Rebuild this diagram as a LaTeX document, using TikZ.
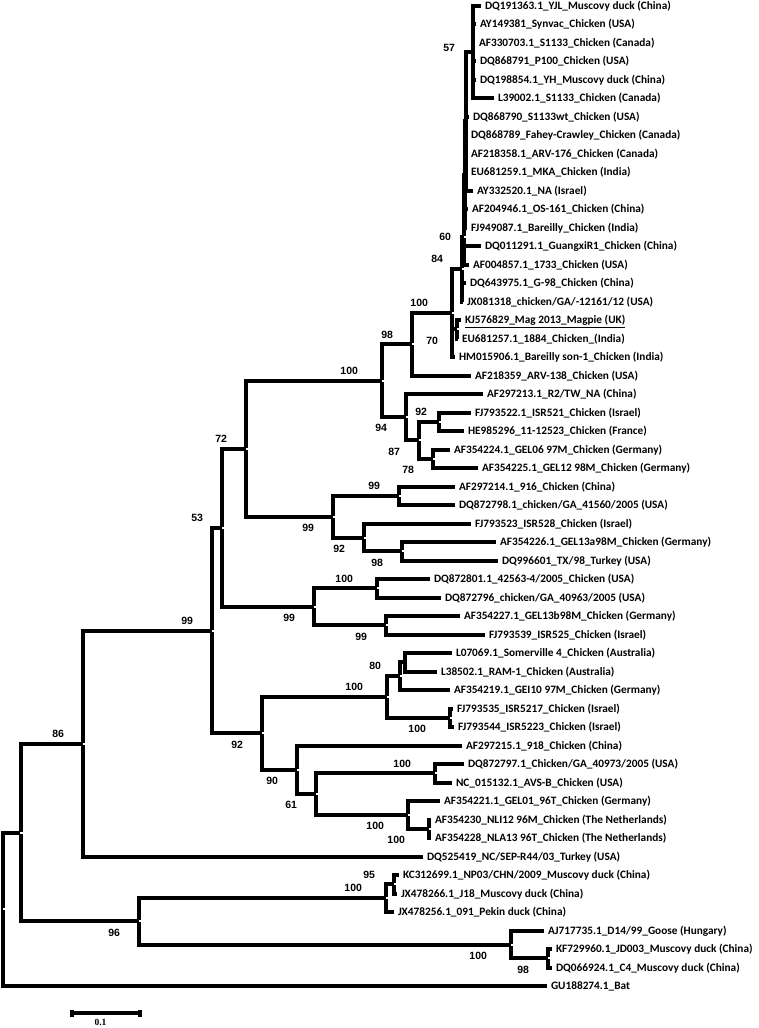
\documentclass[tikz,border=0pt]{standalone}
\usepackage{fontspec}
\setmainfont{Carlito}
\newfontfamily\bsfont{Liberation Sans}
\newfontfamily\sbfont{Liberation Serif}
\tikzset{
  br/.style={line width=4pt, line join=miter},
  leaf/.style={anchor=west, inner sep=0pt, inner xsep=4pt, outer sep=0pt,
    text height=8.5pt, text depth=1pt, font=\bfseries\fontsize{11.3}{13}\selectfont},
  bs/.style={inner sep=0pt, outer sep=0pt, font=\bsfont\bfseries\fontsize{10.5}{12}\selectfont},
  bsa/.style={bs, anchor=south east, xshift=#1, yshift=6.25pt},
  bsa/.default=-19pt,
  bsb/.style={bs, anchor=north east, xshift=#1, yshift=-7.25pt},
  bsb/.default=-19pt,
}
\begin{document}
\begin{tikzpicture}[x=1pt, y=-18.5pt]
\fill[white] (0,-0.308) rectangle (759,55.26);
\useasboundingbox (0,-0.308) rectangle (759,55.26);

% internal nodes
\coordinate (root) at (3,48.85);
\coordinate (ingrp) at (20.5,44.70);
\coordinate (c86) at (83,39.89);
\coordinate (c99a) at (212,33.79);
\coordinate (c53) at (222,28.23);
\coordinate (c72) at (246,23.95);
\coordinate (c100a) at (382,20.28);
\coordinate (c98a) at (412,18.31);
\coordinate (c100b) at (452,16.625);
\coordinate (c84) at (462,14.25);
\coordinate (c60) at (464,12.5);
\coordinate (cB) at (465,9.125);
\coordinate (cA) at (466,6.25);
\coordinate (c57) at (473,2.5);
\coordinate (c70) at (457,17.5);
\coordinate (c94) at (406,22.25);
\coordinate (c87) at (419,23.5);
\coordinate (c92a) at (439,22.5);
\coordinate (c78) at (433,24.5);
\coordinate (c99b) at (333,27.625);
\coordinate (c99c) at (399,26.5);
\coordinate (c92b) at (364,28.75);
\coordinate (c98b) at (402,29.5);
\coordinate (c99d) at (314,32.5);
\coordinate (c100c) at (377,31.5);
\coordinate (c99e) at (386,33.5);
\coordinate (c92c) at (262,39.34);
\coordinate (c100d) at (387,37.375);
\coordinate (c80) at (400,36.25);
\coordinate (cL) at (405,35.5);
\coordinate (c100e) at (450,38.5);
\coordinate (c90) at (297,41.31);
\coordinate (c61) at (316,42.625);
\coordinate (c100f) at (435,41.5);
\coordinate (c100g) at (408,43.75);
\coordinate (c100h) at (429,44.5);
\coordinate (c96) at (139,49.5);
\coordinate (c100i) at (386,48.25);
\coordinate (c95) at (394,47.5);
\coordinate (c100j) at (511,50.75);
\coordinate (c98c) at (548,51.5);

% leaves
\node[leaf] (l1) at (481,0) {DQ191363.1\_YJL\_Muscovy duck (China)};
\node[leaf] (l2) at (476,1) {AY149381\_Synvac\_Chicken (USA)};
\node[leaf] (l3) at (475,2) {AF330703.1\_S1133\_Chicken (Canada)};
\node[leaf] (l4) at (476,3) {DQ868791\_P100\_Chicken (USA)};
\node[leaf] (l5) at (476,4) {DQ198854.1\_YH\_Muscovy duck (China)};
\node[leaf] (l6) at (494,5) {L39002.1\_S1133\_Chicken (Canada)};
\node[leaf] (l7) at (469,6) {DQ868790\_S1133wt\_Chicken (USA)};
\node[leaf] (l8) at (467,7) {DQ868789\_Fahey-Crawley\_Chicken (Canada)};
\node[leaf] (l9) at (467,8) {AF218358.1\_ARV-176\_Chicken (Canada)};
\node[leaf] (l10) at (467,9) {EU681259.1\_MKA\_Chicken (India)};
\node[leaf] (l11) at (473,10) {AY332520.1\_NA (Israel)};
\node[leaf] (l12) at (468,11) {AF204946.1\_OS-161\_Chicken (China)};
\node[leaf] (l13) at (467,12) {FJ949087.1\_Bareilly\_Chicken (India)};
\node[leaf] (l14) at (481,13) {DQ011291.1\_GuangxiR1\_Chicken (China)};
\node[leaf] (l15) at (469,14) {AF004857.1\_1733\_Chicken (USA)};
\node[leaf] (l16) at (466,15) {DQ643975.1\_G-98\_Chicken (China)};
\node[leaf] (l17) at (463,16) {JX081318\_chicken/GA/-12161/12 (USA)};
\node[leaf] (l18) at (461,17) {\underline{KJ576829\_Mag 2013\_Magpie (UK)}};
\node[leaf] (l19) at (458,18) {EU681257.1\_1884\_Chicken\_(India)};
\node[leaf] (l20) at (455,19) {HM015906.1\_Bareilly son-1\_Chicken (India)};
\node[leaf] (l21) at (471,20) {AF218359\_ARV-138\_Chicken (USA)};
\node[leaf] (l22) at (483,21) {AF297213.1\_R2/TW\_NA (China)};
\node[leaf] (l23) at (471,22) {FJ793522.1\_ISR521\_Chicken (Israel)};
\node[leaf] (l24) at (464,23) {HE985296\_11-12523\_Chicken (France)};
\node[leaf] (l25) at (450,24) {AF354224.1\_GEL06 97M\_Chicken (Germany)};
\node[leaf] (l26) at (478,25) {AF354225.1\_GEL12 98M\_Chicken (Germany)};
\node[leaf] (l27) at (455,26) {AF297214.1\_916\_Chicken (China)};
\node[leaf] (l28) at (455,27) {DQ872798.1\_chicken/GA\_41560/2005 (USA)};
\node[leaf] (l29) at (471,28) {FJ793523\_ISR528\_Chicken (Israel)};
\node[leaf] (l30) at (496,29) {AF354226.1\_GEL13a98M\_Chicken (Germany)};
\node[leaf] (l31) at (498,30) {DQ996601\_TX/98\_Turkey (USA)};
\node[leaf] (l32) at (430,31) {DQ872801.1\_42563-4/2005\_Chicken (USA)};
\node[leaf] (l33) at (441,32) {DQ872796\_chicken/GA\_40963/2005 (USA)};
\node[leaf] (l34) at (460,33) {AF354227.1\_GEL13b98M\_Chicken (Germany)};
\node[leaf] (l35) at (485,34) {FJ793539\_ISR525\_Chicken (Israel)};
\node[leaf] (l36) at (452,35) {L07069.1\_Somerville 4\_Chicken (Australia)};
\node[leaf] (l37) at (437,36) {L38502.1\_RAM-1\_Chicken (Australia)};
\node[leaf] (l38) at (450,37) {AF354219.1\_GEI10 97M\_Chicken (Germany)};
\node[leaf] (l39) at (453,38) {FJ793535\_ISR5217\_Chicken (Israel)};
\node[leaf] (l40) at (454,39) {FJ793544\_ISR5223\_Chicken (Israel)};
\node[leaf] (l41) at (462,40) {AF297215.1\_918\_Chicken (China)};
\node[leaf] (l42) at (464,41) {DQ872797.1\_Chicken/GA\_40973/2005 (USA)};
\node[leaf] (l43) at (452,42) {NC\_015132.1\_AVS-B\_Chicken (USA)};
\node[leaf] (l44) at (440,43) {AF354221.1\_GEL01\_96T\_Chicken (Germany)};
\node[leaf] (l45) at (431,44) {AF354230\_NLI12 96M\_Chicken (The Netherlands)};
\node[leaf] (l46) at (431,45) {AF354228\_NLA13 96T\_Chicken (The Netherlands)};
\node[leaf] (l47) at (423,46) {DQ525419\_NC/SEP-R44/03\_Turkey (USA)};
\node[leaf] (l48) at (399,47) {KC312699.1\_NP03/CHN/2009\_Muscovy duck (China)};
\node[leaf] (l49) at (397,48) {JX478266.1\_J18\_Muscovy duck (China)};
\node[leaf] (l50) at (394,49) {JX478256.1\_091\_Pekin duck (China)};
\node[leaf] (l51) at (544,50) {AJ717735.1\_D14/99\_Goose (Hungary)};
\node[leaf] (l52) at (552,51) {KF729960.1\_JD003\_Muscovy duck (China)};
\node[leaf] (l53) at (552,52) {DQ066924.1\_C4\_Muscovy duck (China)};
\node[leaf] (l54) at (547,53) {GU188274.1\_Bat};

% branches
\draw[br] (root) |- (ingrp) (root) |- (l54.west);
\draw[br] (ingrp) |- (c86) (ingrp) |- (c96);
\draw[br] (c86) |- (c99a) (c86) |- (l47.west);
\draw[br] (c99a) |- (c53) (c99a) |- (c92c);
\draw[br] (c53) |- (c72) (c53) |- (c99d);
\draw[br] (c72) |- (c100a) (c72) |- (c99b);
\draw[br] (c100a) |- (c98a) (c100a) |- (c94);
\draw[br] (c98a) |- (c100b) (c98a) |- (l21.west);
\draw[br] (c100b) |- (c84) (c100b) |- (c70) (c100b) |- (l20.west);
\draw[br] (c84) |- (c60) (c84) |- (l16.west) (c84) |- (l17.west);
\draw[br] (c60) |- (cB) (c60) |- (l14.west) (c60) |- (l15.west);
\draw[br] (cB) |- (cA) (cB) |- (l12.west) (cB) |- (l13.west);
\draw[br] (cA) |- (c57) (cA) |- (l7.west) (cA) |- (l8.west) (cA) |- (l9.west)
  (cA) |- (l10.west) (cA) |- (l11.west);
\draw[br] (c57) |- (l1.west) (c57) |- (l2.west) (c57) |- (l3.west) (c57) |- (l4.west)
  (c57) |- (l5.west) (c57) |- (l6.west);
\draw[br] (c70) |- (l18.west) (c70) |- (l19.west);
\draw[br] (c94) |- (l22.west) (c94) |- (c87);
\draw[br] (c87) |- (c92a) (c87) |- (c78);
\draw[br] (c92a) |- (l23.west) (c92a) |- (l24.west);
\draw[br] (c78) |- (l25.west) (c78) |- (l26.west);
\draw[br] (c99b) |- (c99c) (c99b) |- (c92b);
\draw[br] (c99c) |- (l27.west) (c99c) |- (l28.west);
\draw[br] (c92b) |- (l29.west) (c92b) |- (c98b);
\draw[br] (c98b) |- (l30.west) (c98b) |- (l31.west);
\draw[br] (c99d) |- (c100c) (c99d) |- (c99e);
\draw[br] (c100c) |- (l32.west) (c100c) |- (l33.west);
\draw[br] (c99e) |- (l34.west) (c99e) |- (l35.west);
\draw[br] (c92c) |- (c100d) (c92c) |- (c90);
\draw[br] (c100d) |- (c80) (c100d) |- (c100e);
\draw[br] (c80) |- (cL) (c80) |- (l38.west);
\draw[br] (cL) |- (l36.west) (cL) |- (l37.west);
\draw[br] (c100e) |- (l39.west) (c100e) |- (l40.west);
\draw[br] (c90) |- (l41.west) (c90) |- (c61);
\draw[br] (c61) |- (c100f) (c61) |- (c100g);
\draw[br] (c100f) |- (l42.west) (c100f) |- (l43.west);
\draw[br] (c100g) |- (l44.west) (c100g) |- (c100h);
\draw[br] (c100h) |- (l45.west) (c100h) |- (l46.west);
\draw[br] (c96) |- (c100i) (c96) |- (c100j);
\draw[br] (c100i) |- (c95) (c100i) |- (l50.west);
\draw[br] (c95) |- (l48.west) (c95) |- (l49.west);
\draw[br] (c100j) |- (l51.west) (c100j) |- (c98c);
\draw[br] (c98c) |- (l52.west) (c98c) |- (l53.west);

% node marks
\foreach \n in {root,ingrp,c86,c99a,c53,c72,c100a,c98a,c100b,c84,c60,c70,c94,c87,c92a,c78,
  c99b,c99c,c92b,c98b,c99d,c100c,c99e,c92c,c100d,c80,c100e,c90,c61,c100f,c100g,c100h,
  c96,c100i,c95,c100j,c98c}
  \fill[white] ([xshift=-0.2pt,yshift=-1pt]\n) rectangle ++(2.4pt,2pt);

% bootstrap values
\node[bs, anchor=east, xshift=-18pt, yshift=4pt] (t57) at (c57) {57};
\node[bs, anchor=east, xshift=-13pt] (t60) at (c60) {60};
\node[bsa] (t84) at (c84) {84};
\node[bsa=-24pt] (t100b) at (c100b) {100};
\node[bsa] (t98a) at (c98a) {98};
\node[bsb] (t70) at (c70) {70};
\node[bsa=-24pt] (t100a) at (c100a) {100};
\node[bsb] (t94) at (c94) {94};
\node[bsa=-12pt] (t92a) at (c92a) {92};
\node[bsb] (t87) at (c87) {87};
\node[bsb] (t78) at (c78) {78};
\node[bsa] (t72) at (c72) {72};
\node[bsb] (t99b) at (c99b) {99};
\node[bsa] (t99c) at (c99c) {99};
\node[bsb] (t92b) at (c92b) {92};
\node[bsb] (t98b) at (c98b) {98};
\node[bsa] (t53) at (c53) {53};
\node[bsb] (t99d) at (c99d) {99};
\node[bsa=-24pt] (t100c) at (c100c) {100};
\node[bsb] (t99e) at (c99e) {99};
\node[bsa] (t99a) at (c99a) {99};
\node[bsb] (t92c) at (c92c) {92};
\node[bsa=-24pt] (t100d) at (c100d) {100};
\node[bsa] (t80) at (c80) {80};
\node[bsb=-24pt] (t100e) at (c100e) {100};
\node[bsb] (t90) at (c90) {90};
\node[bsb] (t61) at (c61) {61};
\node[bsa=-24pt] (t100f) at (c100f) {100};
\node[bsb=-24pt] (t100g) at (c100g) {100};
\node[bsb=-24pt] (t100h) at (c100h) {100};
\node[bsa] (t86) at (c86) {86};
\node[bsb] (t96) at (c96) {96};
\node[bsa=-24pt] (t100i) at (c100i) {100};
\node[bsa] (t95) at (c95) {95};
\node[bsb=-24pt] (t100j) at (c100j) {100};
\node[bsb] (t98c) at (c98c) {98};

% scale bar
\coordinate (sbl) at (70,54.45);
\coordinate (sbr) at (142,54.45);
\draw[line width=3.5pt] (sbl) -- (sbr);
\fill ([yshift=-3.5pt]sbl) rectangle ++(4pt,7pt);
\fill ([yshift=-3.5pt]sbr) rectangle ++(-4pt,7pt);
\node[font=\sbfont\bfseries\fontsize{9.5}{11}\selectfont, inner sep=0pt] (sbt) at (100.5,54.96) {0.1};
\end{tikzpicture}
\end{document}
